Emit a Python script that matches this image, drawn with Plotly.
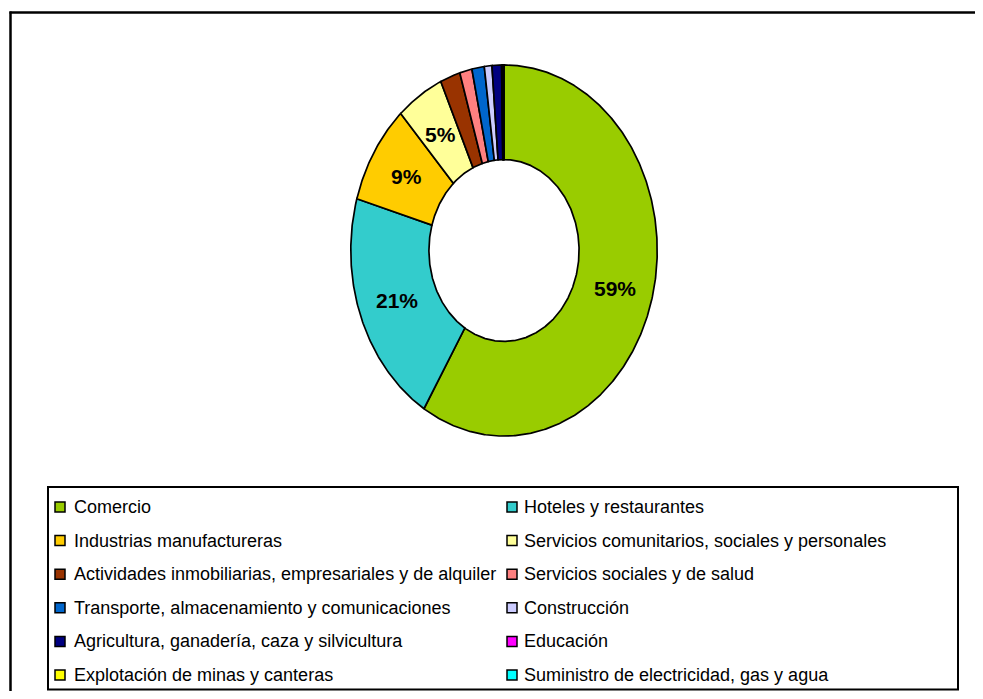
import numpy as np
import plotly.graph_objects as go

# ---------------- data ----------------
categories = [
    "Comercio",
    "Hoteles y restaurantes",
    "Industrias manufactureras",
    "Servicios comunitarios, sociales y personales",
    "Actividades inmobiliarias, empresariales y de alquiler",
    "Servicios sociales y de salud",
    "Transporte, almacenamiento y comunicaciones",
    "Construcción",
    "Agricultura, ganadería, caza y silvicultura",
    "Educación",
    "Explotación de minas y canteras",
    "Suministro de electricidad, gas y agua",
]
values = [58.6, 20.7, 8.7, 5.0, 2.1, 1.3, 1.3, 0.8, 1.0, 0.05, 0.15, 0.05]
colors = [
    "#99CC00", "#33CCCC", "#FFCC00", "#FFFF99", "#993300", "#FF8080",
    "#0066CC", "#CCCCFF", "#000080", "#FF00FF", "#FFFF00", "#00FFFF",
]
label_min_pct = 4  # only slices at least this big get a % label

# ---------------- layout constants ----------------
# the page body has an 8px margin, so the figure is drawn 8px in from the corner
OX, OY = 8, 8
W, H = 983 - 2 * OX, 699 - 2 * OY
def px(x):
    return (x - OX) / W
def py(y):
    return 1 - (y - OY) / H

pie_left, pie_right, pie_top, pie_bottom = 350, 658, 64, 437
hole = 0.49
label_r = 0.75

fig = go.Figure()

total = float(sum(values))
start = 0.0
for cat, v, col in zip(categories, values, colors):
    a0 = start / total * 2 * np.pi
    a1 = (start + v) / total * 2 * np.pi
    start += v
    n = max(3, int(np.degrees(a1 - a0) * 2))
    t = np.linspace(a0, a1, n)
    xs = np.concatenate([np.sin(t), hole * np.sin(t[::-1])])
    ys = np.concatenate([np.cos(t), hole * np.cos(t[::-1])])
    xs = np.append(xs, xs[0])
    ys = np.append(ys, ys[0])
    fig.add_trace(go.Scatter(
        x=xs, y=ys, mode="lines", fill="toself", fillcolor=col,
        line=dict(color="black", width=1.7), name=cat,
        showlegend=False, hoverinfo="name",
    ))
    pct = v / total * 100
    if pct >= label_min_pct:
        am = (a0 + a1) / 2
        fig.add_annotation(
            x=label_r * np.sin(am), y=label_r * np.cos(am), xref="x", yref="y",
            text="<b>%d%%</b>" % round(pct), showarrow=False,
            font=dict(family="Liberation Sans, Arial, sans-serif", size=21, color="black"),
        )

# ---------------- manual legend (2 columns) ----------------
shapes = []
# outer chart border (top and left edges; the rest lies outside the picture)
shapes.append(dict(type="line", xref="paper", yref="paper",
                   x0=px(9.5), x1=px(983), y0=py(12.5), y1=py(12.5),
                   line=dict(color="black", width=2.5)))
shapes.append(dict(type="line", xref="paper", yref="paper",
                   x0=px(10.5), x1=px(10.5), y0=py(11.5), y1=py(699),
                   line=dict(color="black", width=2.5)))
# legend box
shapes.append(dict(type="rect", xref="paper", yref="paper",
                   x0=px(48), x1=px(958), y0=py(689.5), y1=py(487),
                   line=dict(color="black", width=2), fillcolor="rgba(0,0,0,0)"))

col_swatch_x = [55, 507]
col_text_x = [72, 522]
row_y0, row_dy = 507, 33.6
sw = 10
for i, (cat, col) in enumerate(zip(categories, colors)):
    c = i % 2
    r = i // 2
    yc = row_y0 + r * row_dy
    shapes.append(dict(type="rect", xref="paper", yref="paper",
                       x0=px(col_swatch_x[c]), x1=px(col_swatch_x[c] + sw),
                       y0=py(yc + sw / 2), y1=py(yc - sw / 2),
                       line=dict(color="black", width=1.5), fillcolor=col))
    fig.add_annotation(
        x=px(col_text_x[c]), y=py(yc), xref="paper", yref="paper",
        xanchor="left", yanchor="middle", text=cat, showarrow=False,
        font=dict(family="Liberation Sans, Arial, sans-serif", size=18, color="black"),
    )

fig.update_layout(
    width=W, height=H,
    margin=dict(l=0, r=0, t=0, b=0),
    paper_bgcolor="white", plot_bgcolor="white",
    shapes=shapes,
    showlegend=False,
    xaxis=dict(range=[-1.005, 1.005], domain=[px(pie_left), px(pie_right)],
               visible=False, fixedrange=True),
    yaxis=dict(range=[-1.005, 1.005], domain=[py(pie_bottom), py(pie_top)],
               visible=False, fixedrange=True),
)

fig.write_html("out.html")
